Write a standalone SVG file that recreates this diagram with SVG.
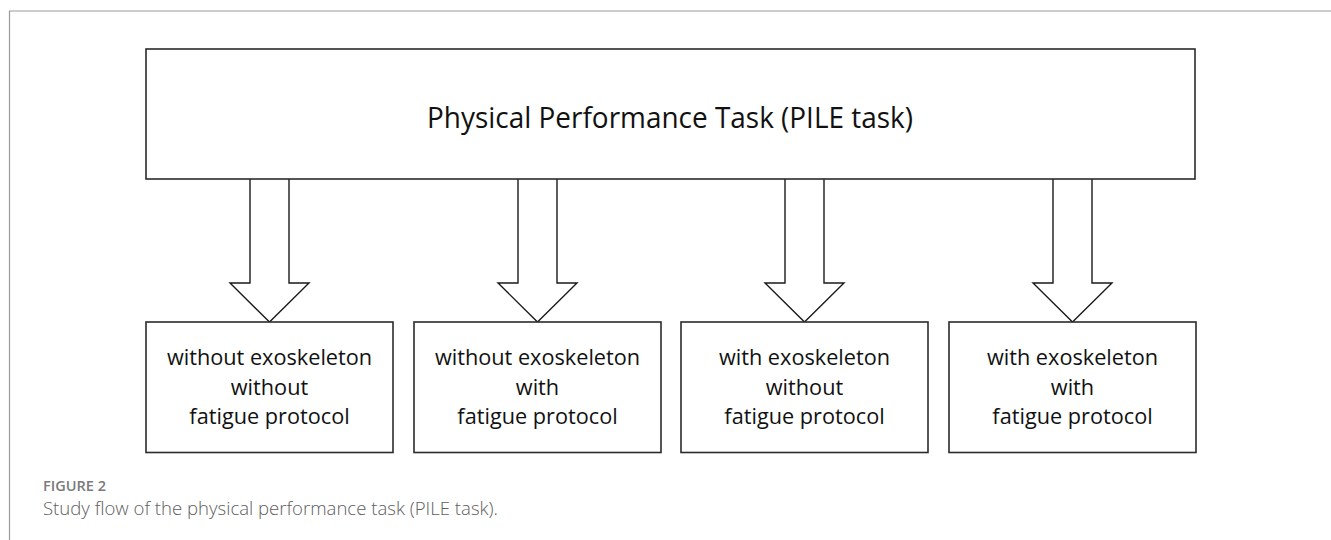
<svg xmlns="http://www.w3.org/2000/svg" width="1331" height="540" viewBox="0 0 1331 540">
<style>
.frame{fill:none;stroke:#9a9a9a;stroke-width:1.2}
.box{fill:#fff;stroke:#2b2b2b;stroke-width:1.6}
.arrow{fill:#fff;stroke:#1a1a1a;stroke-width:1.4;stroke-linejoin:miter}
.t{font-family:"Open Sans","Noto Sans","Liberation Sans",sans-serif;fill:#111;text-anchor:middle}
.title{font-size:29px}
.lbl{font-size:21.7px}
.cap1{font-family:"Open Sans","Noto Sans",sans-serif;font-size:14.5px;font-weight:600;fill:#7a7a7a}
.cap2{font-family:"Open Sans","Noto Sans",sans-serif;font-size:18.5px;font-weight:300;fill:#5e5e5e}
</style>
<rect width="1331" height="540" fill="#fff"/>
<path class="frame" d="M9.5,540 V11 H1331"/>
<g id="connectors">
<polyline class="arrow" points="250,179 250,283 230,283 269.5,322 309,283 289,283 289,179"/>
<polyline class="arrow" points="518,179 518,283 498,283 537.5,322 577,283 557,283 557,179"/>
<polyline class="arrow" points="785,179 785,283 765,283 804.5,322 844,283 824,283 824,179"/>
<polyline class="arrow" points="1053,179 1053,283 1033,283 1072.5,322 1112,283 1092,283 1092,179"/>
</g>
<g id="top">
<rect class="box" x="146" y="49" width="1049" height="130"/>
<text class="t title" x="670" y="128" textLength="486" lengthAdjust="spacingAndGlyphs">Physical Performance Task (PILE task)</text>
</g>
<g id="c1">
<rect class="box" x="146" y="322" width="247" height="130.5"/>
<text class="t lbl" x="269.5" y="365">without exoskeleton</text>
<text class="t lbl" x="269.5" y="394.5">without</text>
<text class="t lbl" x="269.5" y="424">fatigue protocol</text>
</g>
<g id="c2">
<rect class="box" x="414" y="322" width="247" height="130.5"/>
<text class="t lbl" x="537.5" y="365">without exoskeleton</text>
<text class="t lbl" x="537.5" y="394.5">with</text>
<text class="t lbl" x="537.5" y="424">fatigue protocol</text>
</g>
<g id="c3">
<rect class="box" x="681" y="322" width="247" height="130.5"/>
<text class="t lbl" x="804.5" y="365">with exoskeleton</text>
<text class="t lbl" x="804.5" y="394.5">without</text>
<text class="t lbl" x="804.5" y="424">fatigue protocol</text>
</g>
<g id="c4">
<rect class="box" x="949" y="322" width="247" height="130.5"/>
<text class="t lbl" x="1072.5" y="365">with exoskeleton</text>
<text class="t lbl" x="1072.5" y="394.5">with</text>
<text class="t lbl" x="1072.5" y="424">fatigue protocol</text>
</g>
<text class="cap1" x="43" y="491" textLength="63" lengthAdjust="spacingAndGlyphs">FIGURE 2</text>
<text class="cap2" x="43" y="515" textLength="455" lengthAdjust="spacingAndGlyphs">Study flow of the physical performance task (PILE task).</text>
</svg>
